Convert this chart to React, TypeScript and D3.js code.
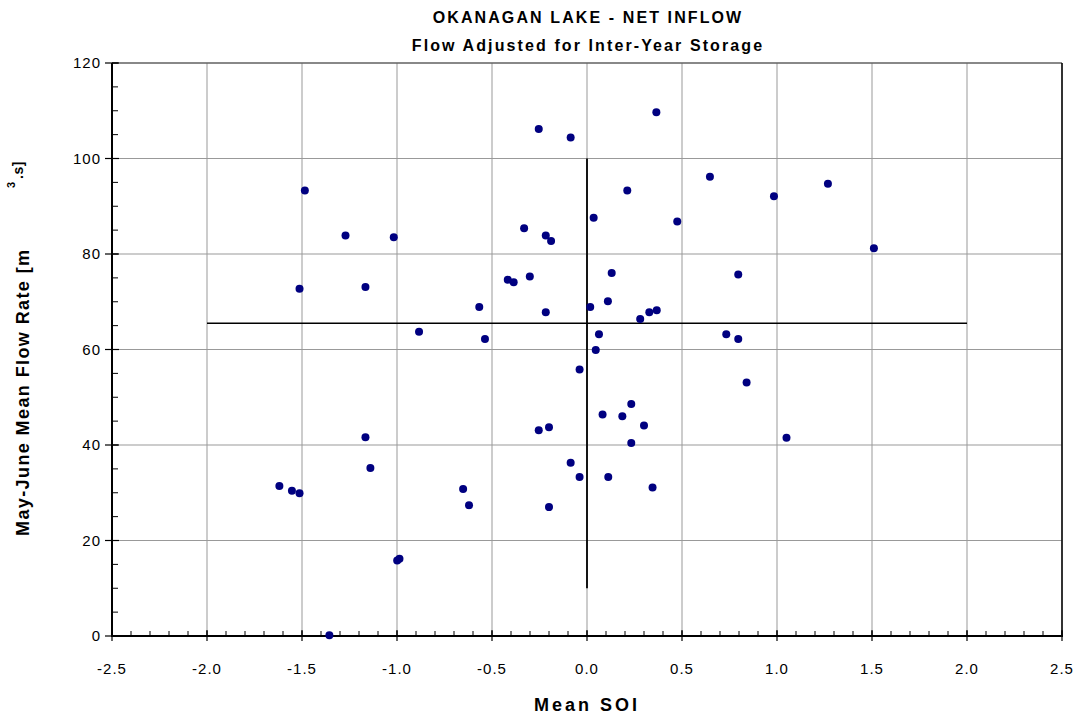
import React from "react";
import * as d3 from "d3";

const SOI = [
  -1.485, -1.271, -1.017, -1.513, -1.166, -0.884,
  0.365, -0.254, -0.086, 0.647, 0.212, 0.035, 0.475, -0.331, -0.217, -0.189,
  0.13, 0.796, -0.417, -0.386, -0.301, -0.567, -0.217, 0.017, 0.11, 0.28,
  0.328, 0.367, -0.537, 0.063, 0.733, 0.796, 0.046,
  1.268, 0.984, 1.51,
  -1.619, -1.553, -1.513, -1.166, -1.14, -0.999, -0.987, -1.356,
  0.84, -0.039, 0.233, 0.082, 0.186, 0.3, -0.2, -0.254, 0.233, -0.086,
  -0.039, 0.112, 0.345, -0.652, -0.621, -0.2, 1.05,
];
const FLOW = [
  93.3, 83.9, 83.5, 72.7, 73.1, 63.7,
  109.7, 106.2, 104.4, 96.2, 93.3, 87.6, 86.8, 85.4, 83.9, 82.7,
  76.0, 75.7, 74.6, 74.1, 75.3, 68.9, 67.8, 68.9, 70.1, 66.4,
  67.8, 68.2, 62.2, 63.2, 63.2, 62.2, 59.9,
  94.7, 92.1, 81.2,
  31.4, 30.4, 29.9, 41.6, 35.2, 15.8, 16.2, 0.15,
  53.1, 55.8, 48.6, 46.4, 46.0, 44.1, 43.7, 43.1, 40.4, 36.3,
  33.3, 33.3, 31.1, 30.8, 27.4, 27.0, 41.5,
];

const X_TICKS = [-2.5, -2.0, -1.5, -1.0, -0.5, 0.0, 0.5, 1.0, 1.5, 2.0, 2.5];
const Y_TICKS = [0, 20, 40, 60, 80, 100, 120];
const X_MINOR = d3.range(-25, 26).map((d) => d / 10);
const Y_MINOR = d3.range(0, 121, 5);

const MEAN_FLOW = 65.5;
const H_LINE_SOI = [-2.0, 2.0];
const V_LINE_SOI = 0;
const V_LINE_FLOW = [10, 100];

const TITLE = "OKANAGAN LAKE - NET INFLOW";
const SUBTITLE = "Flow Adjusted for Inter-Year Storage";
const X_LABEL = "Mean SOI";
const Y_LABEL = "May-June Mean Flow Rate [m";
const Y_LABEL_SUP = "3";
const Y_LABEL_END = ".s]";

const W = 1083;
const H = 715;
const L = 112;
const R = 1062;
const T = 63;
const B = 636;
const FONT = "Arial, 'Liberation Sans', Helvetica, sans-serif";

export default function App() {
  const x = d3.scaleLinear().domain([-2.5, 2.5]).range([L, R]);
  const y = d3.scaleLinear().domain([0, 120]).range([B, T]);
  const pts = SOI.map((s, i) => ({ s, f: FLOW[i] }));

  return (
    <svg
      width={W}
      height={H}
      style={{ position: "absolute", left: 0, top: 0, background: "#fff" }}
      fontFamily={FONT}
    >
      <rect x={0} y={0} width={W} height={H} fill="#fff" />
      {/* grid */}
      {X_TICKS.map((t) => (
        <line key={"gx" + t} x1={x(t)} x2={x(t)} y1={T} y2={B} stroke="#999" strokeWidth={1} />
      ))}
      {Y_TICKS.map((t) => (
        <line key={"gy" + t} x1={L} x2={R} y1={y(t)} y2={y(t)} stroke="#999" strokeWidth={1} />
      ))}
      {/* frame */}
      <line x1={L} x2={R} y1={T} y2={T} stroke="#444" strokeWidth={1.2} />
      <line x1={R} x2={R} y1={T} y2={B} stroke="#000" strokeWidth={1.5} />
      {/* reference lines */}
      <line
        x1={x(H_LINE_SOI[0])}
        x2={x(H_LINE_SOI[1])}
        y1={y(MEAN_FLOW)}
        y2={y(MEAN_FLOW)}
        stroke="#000"
        strokeWidth={1.5}
      />
      <line
        x1={x(V_LINE_SOI)}
        x2={x(V_LINE_SOI)}
        y1={y(V_LINE_FLOW[0])}
        y2={y(V_LINE_FLOW[1])}
        stroke="#000"
        strokeWidth={1.8}
      />
      {/* axes */}
      <line x1={L} x2={L} y1={T} y2={B + 1} stroke="#000" strokeWidth={2} />
      <line x1={L - 1} x2={R + 1} y1={B} y2={B} stroke="#000" strokeWidth={2} />
      {X_MINOR.map((t) => (
        <line key={"mx" + t} x1={x(t)} x2={x(t)} y1={B - 5} y2={B} stroke="#000" strokeWidth={1} />
      ))}
      {X_TICKS.map((t) => (
        <line key={"tx" + t} x1={x(t)} x2={x(t)} y1={B - 6} y2={B + 5} stroke="#000" strokeWidth={1.2} />
      ))}
      {Y_MINOR.map((t) => (
        <line key={"my" + t} x1={L} x2={L + 6} y1={y(t)} y2={y(t)} stroke="#000" strokeWidth={1} />
      ))}
      {Y_TICKS.map((t) => (
        <line key={"ty" + t} x1={L - 7} x2={L + 7} y1={y(t)} y2={y(t)} stroke="#000" strokeWidth={1.2} />
      ))}
      {/* tick labels */}
      {X_TICKS.map((t) => (
        <text
          key={"lx" + t}
          x={x(t)}
          y={B + 38}
          textAnchor="middle"
          fontSize={15}
          letterSpacing={1}
          fill="#000"
        >
          {t.toFixed(1)}
        </text>
      ))}
      {Y_TICKS.map((t) => (
        <text
          key={"ly" + t}
          x={L - 11}
          y={y(t) + 5}
          textAnchor="end"
          fontSize={15}
          letterSpacing={1}
          fill="#000"
        >
          {String(t)}
        </text>
      ))}
      {/* points */}
      {pts.map((p, i) => (
        <circle key={"p" + i} cx={x(p.s)} cy={y(p.f)} r={4} fill="#000080" />
      ))}
      {/* titles */}
      <text x={588} y={23} textAnchor="middle" fontSize={16} fontWeight="bold" letterSpacing={2.1}>
        {TITLE}
      </text>
      <text x={588} y={51} textAnchor="middle" fontSize={16} fontWeight="bold" letterSpacing={2.1}>
        {SUBTITLE}
      </text>
      <text x={587} y={711} textAnchor="middle" fontSize={18} fontWeight="bold" letterSpacing={3}>
        {X_LABEL}
      </text>
      <g transform="translate(29,536) rotate(-90)">
        <text x={0} y={0} fontSize={18} fontWeight="bold" letterSpacing={1.4}>
          {Y_LABEL}
        </text>
        <text x={348} y={-14} fontSize={11} fontWeight="bold">
          {Y_LABEL_SUP}
        </text>
        <text x={357} y={-6} fontSize={14} fontWeight="bold" letterSpacing={0.5}>
          {Y_LABEL_END}
        </text>
      </g>
    </svg>
  );
}
